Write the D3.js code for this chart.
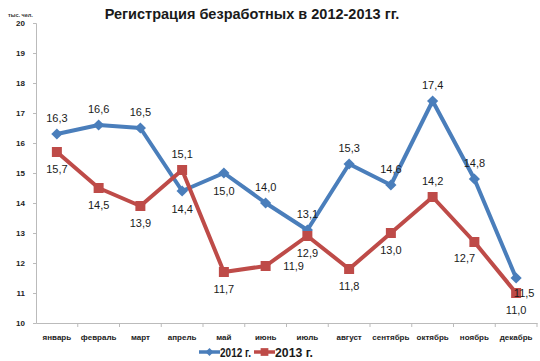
<!DOCTYPE html>
<html><head><meta charset="utf-8">
<script src="https://cdn.jsdelivr.net/npm/d3@7"></script>
<style>body{margin:0;background:#fff}svg{display:block}</style>
</head><body>
<svg id="c" width="540" height="361"></svg>
<script>
const months = ["январь","февраль","март","апрель","май","июнь","июль","август","сентябрь","октябрь","ноябрь","декабрь"];
const values2012 = [16.3,16.6,16.5,14.4,15.0,14.0,13.1,15.3,14.6,17.4,14.8,11.5];
const values2013 = [15.7,14.5,13.9,15.1,11.7,11.9,12.9,11.8,13.0,14.2,12.7,11.0];
const yTicks = [10,11,12,13,14,15,16,17,18,19,20];
// label placement: [dx, dy]
const pos2012 = [[0,-12],[0,-12],[0,-12],[0,22],[0,22],[0,-12],[0,-12],[0,-12],[0,-12],[0,-12],[0,-12],[8,19]];
const pos2013 = [[0,21],[0,21],[0,21],[0,-12],[0,21],[28,4],[0,21],[0,21],[0,21],[0,-12],[-10,20],[0,21]];

const svg = d3.select("#c");
const x = d3.scaleBand().domain(months).range([36,537]);
const y = d3.scaleLinear().domain([10,20]).range([323,23]);
const font = "Arial, 'Liberation Sans', sans-serif";

svg.append("text").attr("x",252).attr("y",19).attr("text-anchor","middle")
  .attr("font-family",font).attr("font-weight","bold").attr("font-size",14.5).attr("fill","#1a1a1a")
  .text("Регистрация безработных в 2012-2013 гг.");
svg.append("text").attr("x",8).attr("y",17).attr("font-family",font).attr("font-weight","bold")
  .attr("font-size",5.5).attr("fill","#333").text("тыс. чел.");

const ya = svg.append("g").attr("transform","translate(36,0)")
  .call(d3.axisLeft(y).tickValues(yTicks).tickSize(3).tickPadding(8));
ya.select(".domain").attr("stroke","#bbb");
ya.selectAll(".tick line").attr("stroke","#bbb");
ya.selectAll("text").attr("font-family",font).attr("font-weight","bold").attr("font-size",8).attr("fill","#222");

const xa = svg.append("g").attr("transform","translate(0,323)")
  .call(d3.axisBottom(x).tickSize(0).tickPadding(11));
xa.select(".domain").attr("stroke","#bbb");
xa.selectAll("text").attr("font-family",font).attr("font-weight","bold").attr("font-size",8).attr("fill","#222");
svg.append("g").selectAll("line").data(months).join("line")
  .attr("x1",d=>x(d)+x.bandwidth()).attr("x2",d=>x(d)+x.bandwidth())
  .attr("y1",323).attr("y2",327).attr("stroke","#bbb");

const cx = d => x(d) + x.bandwidth()/2;
const line = d3.line().x(d=>cx(d.m)).y(d=>y(d.v));
const series = [
  {vals:values2012,color:"#4A7EBB",marker:"diamond",pos:pos2012},
  {vals:values2013,color:"#BE4B48",marker:"square",pos:pos2013}
];
series.forEach(s=>{
  const data = months.map((m,i)=>({m,v:s.vals[i],i}));
  svg.append("path").datum(data).attr("d",line).attr("fill","none")
    .attr("stroke",s.color).attr("stroke-width",4).attr("stroke-linejoin","round");
  svg.append("g").selectAll("path").data(data).join("path")
    .attr("transform",d=>`translate(${cx(d.m)},${y(d.v)})`)
    .attr("d",d3.symbol().type(s.marker==="diamond"?d3.symbolDiamond2:d3.symbolSquare).size(s.marker==="diamond"?80:100))
    .attr("fill",s.color);
});
series.forEach(s=>{
  const data = months.map((m,i)=>({m,v:s.vals[i],i}));
  svg.append("g").selectAll("text").data(data).join("text")
    .attr("x",d=>cx(d.m)+s.pos[d.i][0]).attr("y",d=>y(d.v)+s.pos[d.i][1])
    .attr("text-anchor","middle").attr("font-family",font).attr("font-size",11).attr("fill","#1a1a1a")
    .text(d=>d.v.toFixed(1).replace(".",","));
});

// legend
const lg = svg.append("g");
[{t:"2012 г.",c:"#4A7EBB",m:d3.symbolDiamond2,sz:40,x:199,w:31},{t:"2013 г.",c:"#BE4B48",m:d3.symbolSquare,sz:60,x:254,w:38}].forEach(l=>{
  lg.append("line").attr("x1",l.x).attr("x2",l.x+21).attr("y1",352).attr("y2",352).attr("stroke",l.c).attr("stroke-width",3.5);
  lg.append("path").attr("transform",`translate(${l.x+10.5},352)`).attr("d",d3.symbol().type(l.m).size(l.sz)).attr("fill",l.c);
  lg.append("text").attr("x",l.x+21).attr("y",357).attr("font-family",font).attr("font-weight","bold")
    .attr("font-size",13).attr("textLength",l.w).attr("lengthAdjust","spacingAndGlyphs").attr("fill","#1a1a1a").text(l.t);
});
</script>
</body></html>
